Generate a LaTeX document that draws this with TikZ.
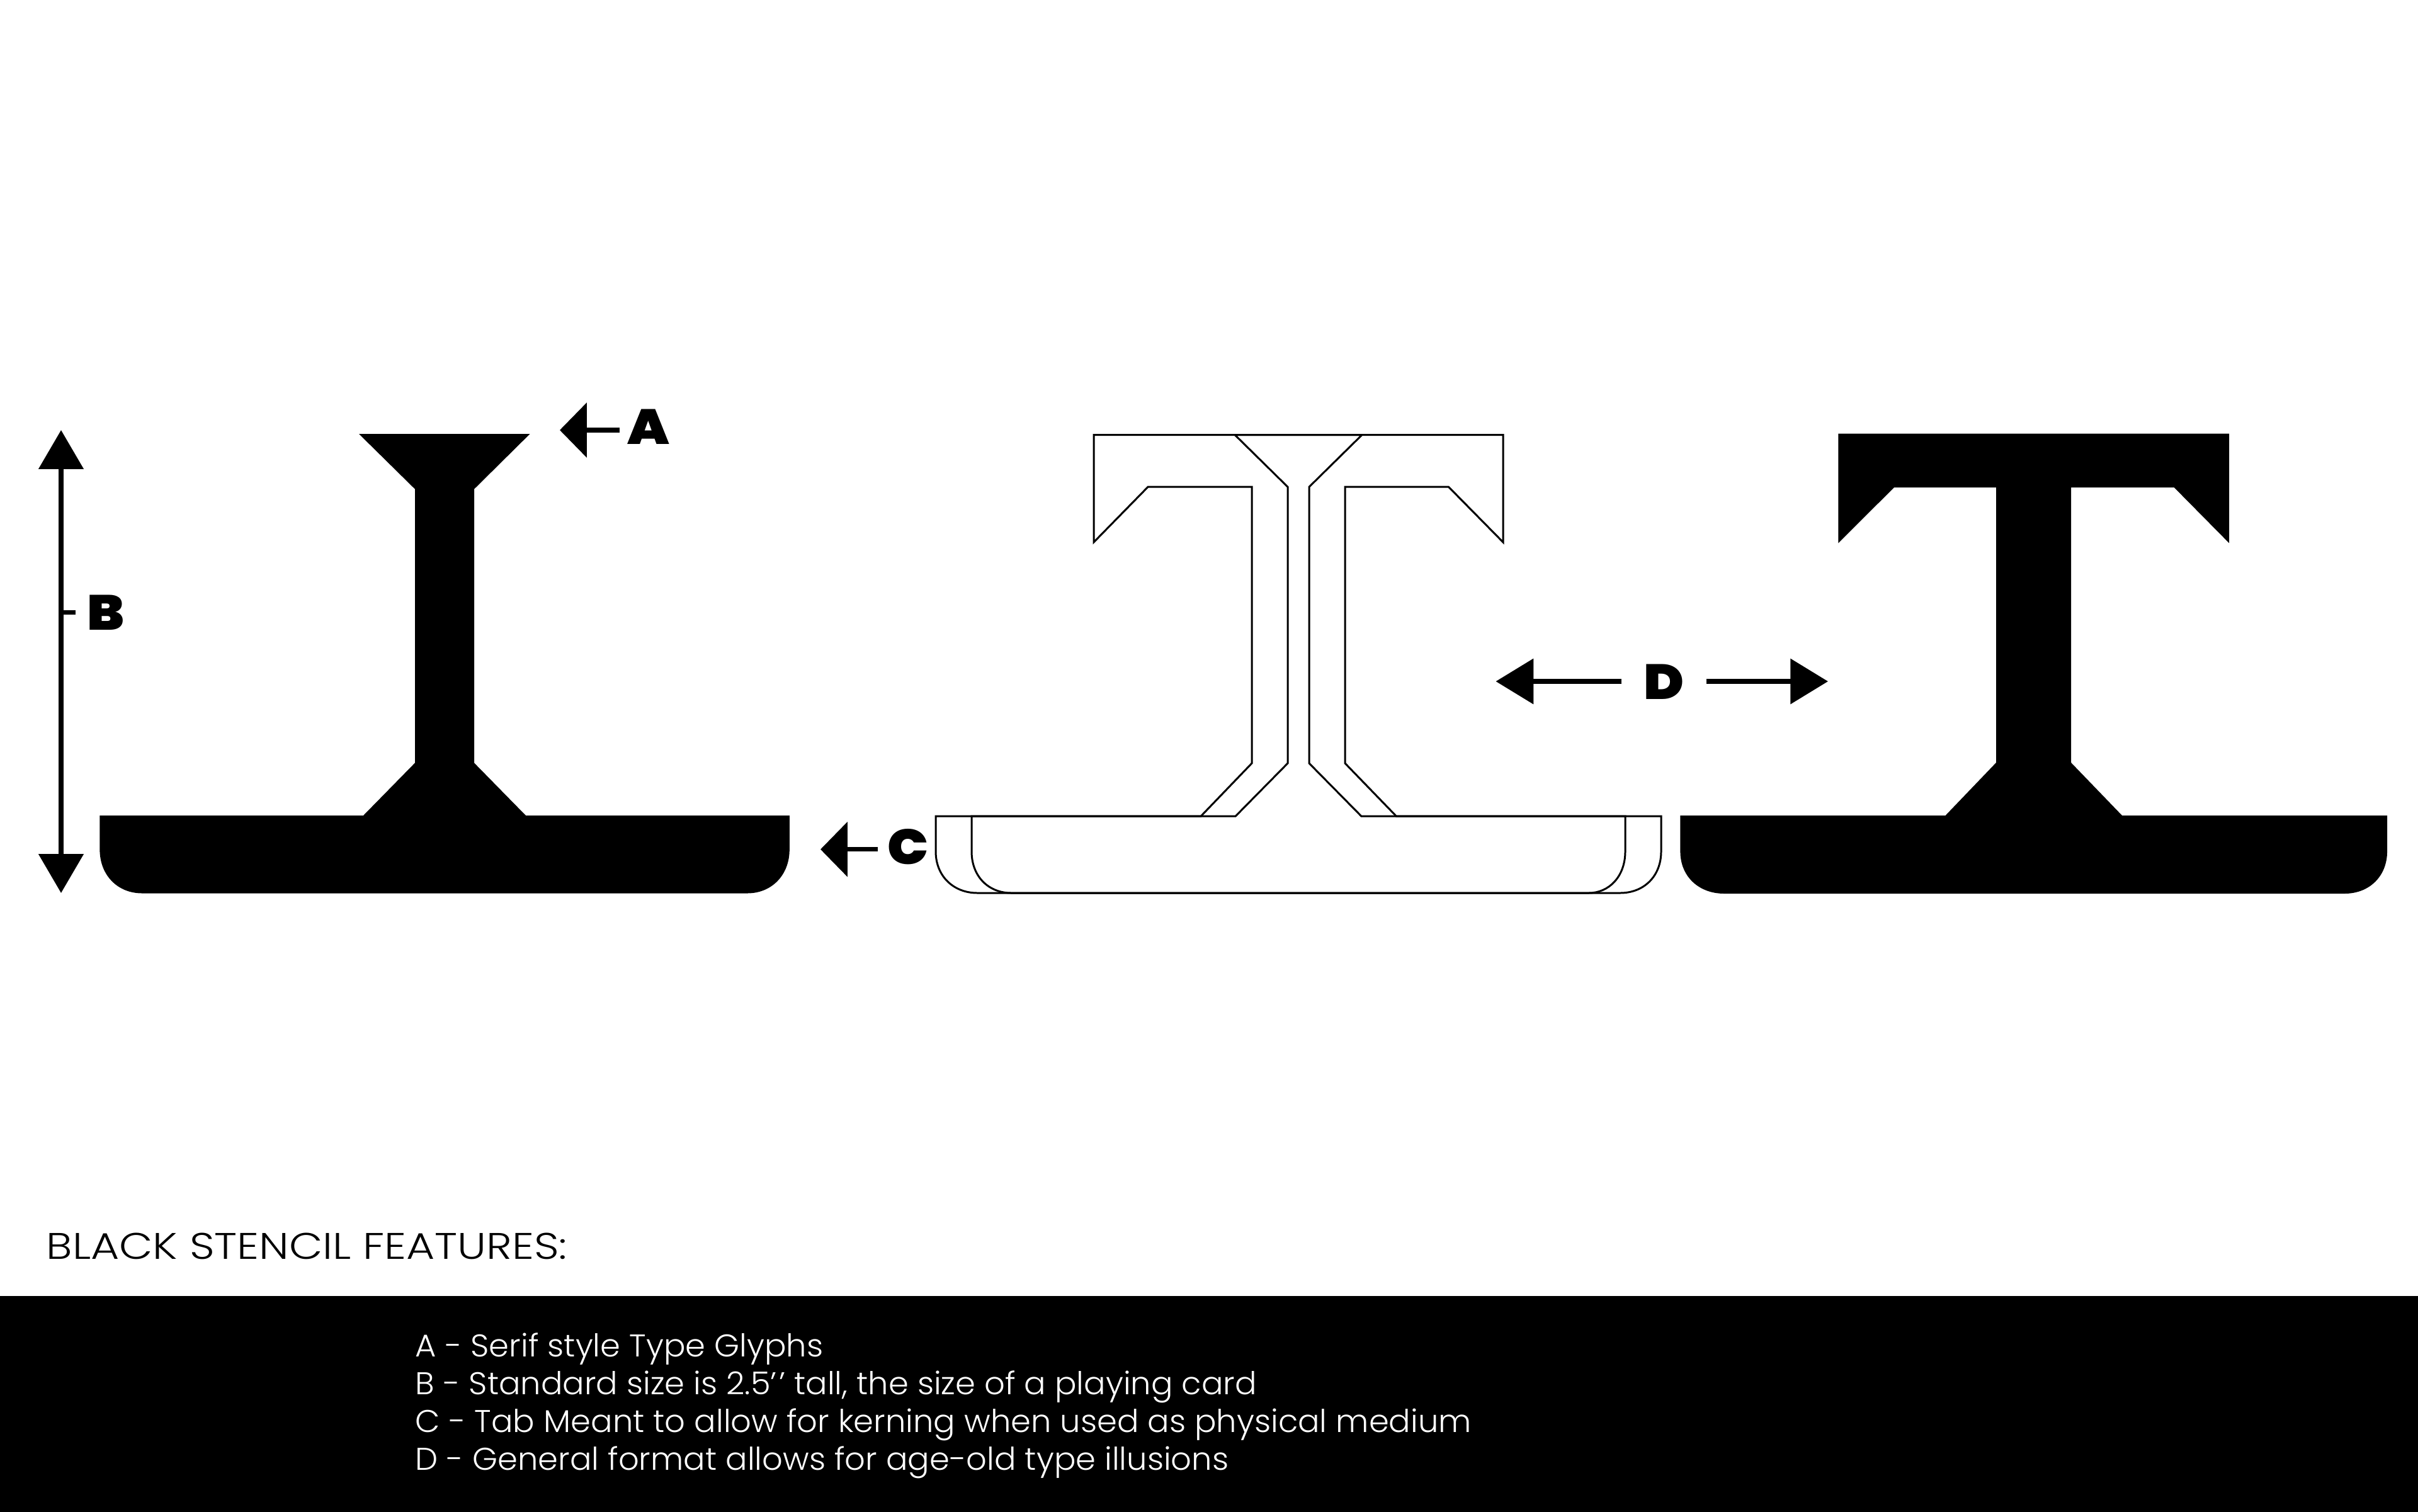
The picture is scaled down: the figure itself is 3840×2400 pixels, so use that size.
\documentclass[tikz,border=0pt]{standalone}
\usepackage{fontspec}
\setmainfont{Poppins}[UprightFont=* Light, FakeStretch=1.025]
\newfontfamily\headfont{Poppins}[UprightFont=* Light, FakeStretch=1.18]
\newfontfamily\tagfont{Poppins}[UprightFont=* Black, FakeStretch=1.1]
\usetikzlibrary{arrows.meta, positioning, calc}
\tikzset{
  every picture/.style={x=0.01cm, y=-0.01cm},
  stencil/.style={fill=black, draw=none},
  outline/.style={draw=black, line width=0.85pt, line join=miter},
  lettertag/.style={font=\tagfont\fontsize{22.3}{26}\selectfont, anchor=base, inner ysep=0pt, inner xsep=#1},
  lettertag/.default=5pt,
  arrowsmall/.style={-{Triangle[length=12.2pt, width=24.5pt]}, line width=2pt},
  arrowwide/.style={-{Triangle[length=17pt, width=20.2pt]}, line width=2pt},
  arrowtall/.style={{Triangle[length=17.6pt, width=20pt]}-{Triangle[length=17.6pt, width=20pt]}, line width=2pt},
  heading/.style={font=\headfont\fontsize{16.7}{20}\selectfont, anchor=base west, inner sep=0pt},
  item/.style={font=\fontsize{14.2}{17}\selectfont, anchor=base west, inner sep=0pt, text=white},
}
\begin{document}
\begin{tikzpicture}
  \useasboundingbox (0,0) rectangle (3840,2400);
  \fill[black] (0,2058) rectangle (3840,2410);
  % first glyph
  \fill[stencil] (570,689) -- (841.6,689) -- (753,776.7) -- (753,1211.4) -- (835,1295) -- (1253.8,1295) -- (1253.8,1349)
    .. controls (1253.8,1390) and (1225,1418.5) .. (1187,1418.5) -- (225.5,1418.5)
    .. controls (187,1418.5) and (158.4,1390) .. (158.4,1349) -- (158.4,1295) -- (577,1295) -- (659,1211.4) -- (659,776.7) -- cycle;
  % outlined pair
  \draw[outline] (1737,861) -- (1737,690.5) -- (2387,690.5) -- (2387,861) -- (2300.5,773.2) -- (2136,773.2) -- (2136,1212) -- (2217.5,1296.2) -- (2581,1296.2) -- (2581,1352)
    .. controls (2581,1392) and (2555,1418) .. (2523,1418) -- (1606,1418)
    .. controls (1570,1418) and (1543,1392) .. (1543,1352) -- (1543,1296.2) -- (1907,1296.2) -- (1988,1212) -- (1988,773.2) -- (1823,773.2) -- cycle;
  \draw[outline] (1961,690.5) -- (2045,773.2) -- (2045,1212) -- (1962,1296.2) -- (1486,1296.2) -- (1486,1352)
    .. controls (1486,1392) and (1515,1418) .. (1552,1418) -- (2573,1418)
    .. controls (2610,1418) and (2638,1392) .. (2638,1352) -- (2638,1296.2) -- (2162,1296.2) -- (2079,1212) -- (2079,773.2) -- (2163,690.5) -- cycle;
  % last glyph
  \fill[stencil] (2919.4,862.4) -- (2919.4,688.5) -- (3540,688.5) -- (3540,862.4) -- (3452.6,774) -- (3289,774) -- (3289,1211) -- (3370,1295) -- (3791,1295) -- (3791,1352)
    .. controls (3791,1392) and (3762,1419) .. (3723.6,1419) -- (2738,1419)
    .. controls (2698,1419) and (2668.4,1392) .. (2668.4,1352) -- (2668.4,1295) -- (3089.5,1295) -- (3170,1211) -- (3170,774) -- (3008,774) -- cycle;
  % letter tags
  \node[lettertag=3.4pt] (tagA) at (1030,705) {A};
  \node[lettertag=5pt] (tagB) at (168,1000) {B};
  \node[lettertag=4pt] (tagC) at (1441.5,1372.5) {C};
  \node[lettertag=9.8pt] (tagD) at (2642.5,1110.5) {D};
  \coordinate (tipA) at (889,683);
  \coordinate (tipC) at (1303,1348.7);
  \coordinate (tipDl) at (2375.5,1082);
  \coordinate (tipDr) at (2903,1082);
  \coordinate (topB) at (97,683);
  \coordinate (botB) at (97,1418);
  \draw[arrowsmall] (tagA.west |- tipA) -- (tipA);
  \draw[arrowsmall] (tagC.west |- tipC) -- (tipC);
  \draw[arrowwide] (tagD.west |- tipDl) -- (tipDl);
  \draw[arrowwide] (tagD.east |- tipDr) -- (tipDr);
  \draw[arrowtall] (topB) -- (botB);
  \draw[line width=2pt] (97,972.6) -- (tagB.west |- 0,972.6);
  % caption
  \node[heading] (title) at (73,1999) {BLACK STENCIL FEATURES:};
  \foreach \n/\y/\t in {A/2154/{A - Serif style Type Glyphs},
    B/2214/{B - Standard size is 2.5{’}\kern1pt{’} tall, the size of a playing card},
    C/2274/{C - Tab Meant to allow for kerning when used as physical medium},
    D/2334/{D - General format allows for age-old type illusions}} {
    \node[item] (item\n) at (659,\y) {\t};
  }
\end{tikzpicture}
\end{document}
